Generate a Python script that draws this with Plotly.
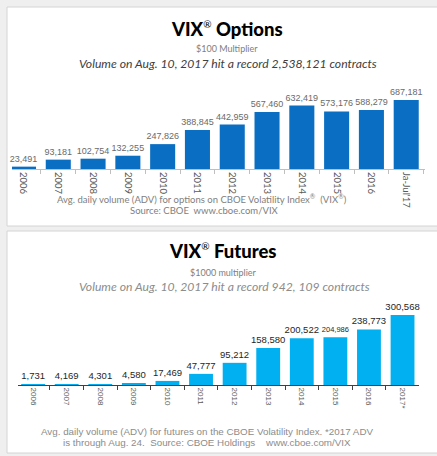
import plotly.graph_objects as go

W, H = 437, 456

opt_years = ["2006", "2007", "2008", "2009", "2010", "2011", "2012", "2013", "2014", "2015", "2016", "Ja-Jul'17"]
opt_adv = [23491, 93181, 102754, 132255, 247826, 388845, 442959, 567460, 632419, 573176, 588279, 687181]

fut_years = ["2006", "2007", "2008", "2009", "2010", "2011", "2012", "2013", "2014", "2015", "2016", "2017*"]
fut_adv = [1731, 4169, 4301, 4580, 17469, 47777, 95212, 158580, 200522, 204986, 238773, 300568]


def px(x):
    return x / W


def py(y):
    return 1 - y / H


fig = go.Figure()

fig.add_trace(go.Bar(
    x=opt_years, y=opt_adv, xaxis="x", yaxis="y",
    marker=dict(color="#0a6fc2", line=dict(width=0)), width=0.72,
    texttemplate="%{y:,}", textposition="outside", constraintext="none",
    textfont=dict(family="Liberation Sans", size=9, color="#6a6a6a"),
    cliponaxis=False, hoverinfo="skip",
))

fut_sizes = [9.5] * len(fut_adv)
fut_sizes[9] = 7.5
fig.add_trace(go.Bar(
    x=fut_years, y=fut_adv, xaxis="x2", yaxis="y2",
    marker=dict(color="#00b0f0", line=dict(width=0)), width=0.71,
    texttemplate="%{y:,}", textposition="outside", constraintext="none",
    textfont=dict(family="Liberation Sans", size=fut_sizes, color="#262626"),
    cliponaxis=False, hoverinfo="skip",
))

shapes = [
    dict(type="rect", xref="paper", yref="paper", x0=px(7), x1=px(445), y0=py(226), y1=py(7),
         fillcolor="white", line=dict(color="#d4d4d4", width=1), layer="below"),
    dict(type="rect", xref="paper", yref="paper", x0=px(7), x1=px(445), y0=py(453), y1=py(231),
         fillcolor="white", line=dict(color="#d4d4d4", width=1), layer="below"),
]


def ann(text, x, y, size, color, family="Lato", weight="normal"):
    return dict(text=text, x=px(x), y=py(y), xref="paper", yref="paper",
                xanchor="center", yanchor="middle", showarrow=False,
                font=dict(family=family, size=size, color=color, weight=weight))


REG = "<sup><span style='font-size:10px;font-weight:400'>®</span></sup>"

annotations = [
    ann("VIX" + REG + " Options", 227, 29, 18.5, "#000000", weight=900),
    ann("$100 Multiplier", 227, 49, 9, "#808080"),
    ann("<i>Volume on Aug. 10, 2017 hit a record 2,538,121 contracts</i>", 228, 63, 12.2, "#404040"),
    ann("Avg. daily volume (ADV) for options on CBOE Volatility Index<sup>®</sup>  (VIX<sup>®</sup>)", 202, 198, 9.5, "#808080"),
    ann("Source: CBOE  www.cboe.com/VIX", 204, 210, 9.5, "#808080"),
    ann("VIX" + REG + " Futures", 223, 251, 18.5, "#000000", weight=900),
    ann("$1000 multiplier", 223, 272, 9, "#808080"),
    ann("<i>Volume on Aug. 10, 2017 hit a record 942, 109 contracts</i>", 224, 286, 12.2, "#8c8c8c"),
    ann("Avg. daily volume (ADV) for futures on the CBOE Volatility Index. *2017 ADV", 207, 431, 9.8, "#8c8c8c", "Liberation Sans"),
    ann("is through Aug. 24.  Source: CBOE Holdings    www.cboe.com/VIX", 207, 442, 9.8, "#8c8c8c", "Liberation Sans"),
]

fig.update_layout(
    width=W, height=H, margin=dict(l=0, r=0, t=0, b=0),
    paper_bgcolor="#efefef", plot_bgcolor="rgba(0,0,0,0)",
    showlegend=False, shapes=shapes, annotations=annotations,
    xaxis=dict(domain=[px(12), px(425)], anchor="y", type="category", range=[-0.33, 11.54],
               tickson="boundaries", ticks="outside", ticklen=4, tickcolor="#bfbfbf",
               showline=True, linecolor="#bfbfbf", linewidth=1, showgrid=False,
               tickangle=90, tickfont=dict(family="Lato", size=9.5, color="#595959")),
    yaxis=dict(domain=[py(169), py(95)], anchor="x", range=[0, 687181 * 74 / 69], visible=False),
    xaxis2=dict(domain=[px(18), px(419)], anchor="y2", type="category", range=[-0.45, 11.49],
                tickson="boundaries", ticks="outside", ticklen=4, tickcolor="#404040",
                showline=True, linecolor="#404040", linewidth=1, showgrid=False,
                tickangle=90, tickfont=dict(family="Liberation Sans", size=8, color="#595959")),
    yaxis2=dict(domain=[py(385), py(310)], anchor="x2", range=[0, 300568 * 75 / 70], visible=False),
)

fig.write_html("out.html", config={"displayModeBar": False},
               post_script="document.body.style.margin='0';document.body.style.overflow='hidden';")
